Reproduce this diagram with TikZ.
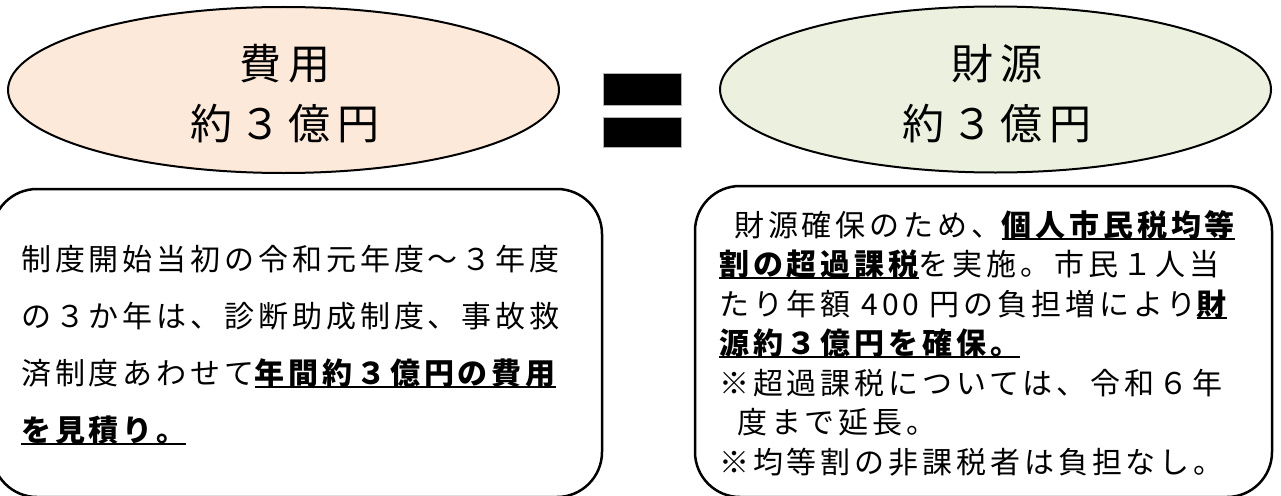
\documentclass[tikz,border=0pt]{standalone}
\usepackage{fontspec}
\usetikzlibrary{shapes.geometric}
\newfontfamily\titlefont[LetterSpace=16]{Noto Sans CJK JP}
\newfontfamily\bodyfont[LetterSpace=13]{Noto Sans CJK JP}
\definecolor{peach}{HTML}{FDE9D9}
\definecolor{sage}{HTML}{EBF1DE}
\newcommand\ulb[1]{\setbox0=\hbox{\bfseries #1}\rlap{\rule[-3.5pt]{\wd0}{2pt}}\box0}
\begin{document}
\begin{tikzpicture}[x=1pt,y=-1pt,
  oval/.style={ellipse, draw=black, line width=2pt, minimum width=551pt, minimum height=166pt, inner sep=0pt},
  panel/.style={draw=black, line width=2.5pt, rounded corners=45pt, inner sep=0pt, outer sep=0pt},
  bar/.style={fill=black, draw=black!30, line width=1pt, minimum width=78pt, inner sep=0pt},
  title/.style={font=\titlefont\fontsize{42}{42}\selectfont, inner sep=0pt, anchor=base},
  body/.style={font=\bodyfont\fontsize{30}{30}\selectfont, inner sep=0pt, anchor=base west},
]
\useasboundingbox (0,0) rectangle (1281,495);
% ellipses
\node[oval, fill=peach] (cost) at (283.5,90) {};
\node[oval, fill=sage] (fund) at (995.5,89.5) {};
\node[title] (costA) at (285,79.5) {費用};
\node[title] (costB) at (285,139.5) {約３億円};
\node[title] (fundA) at (997,79.5) {財源};
\node[title] (fundB) at (997,139.5) {約３億円};
% equals sign
\node[bar, minimum height=32pt] (eqA) at (642,89) {};
\node[bar, minimum height=30pt] (eqB) at (642,132) {};
% panels
\node[panel, minimum width=610pt, minimum height=308pt] (lbox) at (297,343) {};
\node[panel, minimum width=577pt, minimum height=311pt] (rbox) at (983.5,341.5) {};
% left text
\node[body] (l1) at (21,270) {制度開始当初の令和元年度～３年度};
\node[body] (l2) at (21,327) {の３か年は、診断助成制度、事故救};
\node[body] (l3) at (21,384) {済制度あわせて\ulb{年間約３億円の費用}};
\node[body] (l4) at (21,441) {\ulb{を見積り。}};
% right text
\node[body] (r1) at (734,236) {財源確保のため、\ulb{個人市民税均等}};
\node[body] (r2) at (719,275.5) {\ulb{割の超過課税}を実施。市民１人当};
\node[body] (r3) at (719,315) {たり年額 400 円の負担増により\ulb{財}};
\node[body] (r4) at (719,354.5) {\ulb{源約３億円を確保。}};
\node[body] (r5) at (719,394) {※超過課税については、令和６年};
\node[body] (r6) at (737,433.5) {度まで延長。};
\node[body] (r7) at (719,473) {※均等割の非課税者は負担なし。};
\end{tikzpicture}
\end{document}
